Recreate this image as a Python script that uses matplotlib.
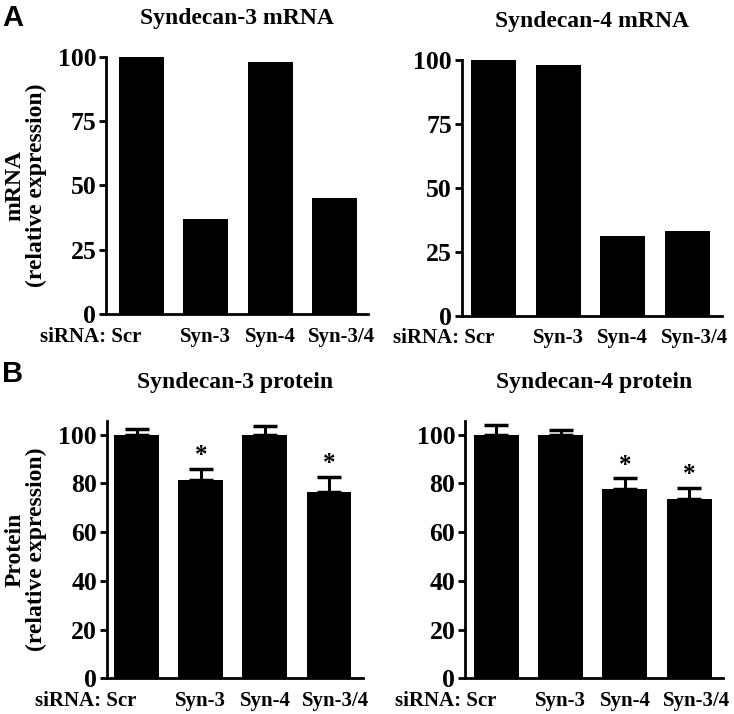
import matplotlib.pyplot as plt
import matplotlib.transforms as mtransforms

plt.rcParams['font.family'] = ['Liberation Serif', 'DejaVu Serif']
plt.rcParams['font.weight'] = 'bold'

# Data
groups = ["Scr", "Syn-3", "Syn-4", "Syn-3/4"]
syn3_mrna = [100, 37, 98, 45]
syn4_mrna = [100, 98, 31, 33]
syn3_prot = [100, 81.5, 99.7, 76.5]
syn3_prot_err = [2.2, 4.3, 4.0, 6.0]
syn3_prot_sig = [False, True, False, True]
syn4_prot = [100, 99.7, 77.5, 73.5]
syn4_prot_err = [4.0, 2.0, 4.5, 4.5]
syn4_prot_sig = [False, False, True, True]

fig = plt.figure(figsize=(7.34, 7.14), dpi=100)

# axes rectangles in figure fractions
ax_a1 = fig.add_axes([0.1444, 0.5602, 0.357, 0.360])
ax_a2 = fig.add_axes([0.629, 0.5578, 0.354, 0.358])
ax_b1 = fig.add_axes([0.1454, 0.050, 0.349, 0.3604])
ax_b2 = fig.add_axes([0.6335, 0.050, 0.351, 0.3604])

x = list(range(len(groups)))


def style_axis(ax, title, ylim, yticks, xlim):
    ax.set_xlim(*xlim)
    ax.set_ylim(*ylim)
    ax.set_yticks(yticks)
    ax.tick_params(axis='y', labelsize=18.5, width=2, length=5, pad=2)
    ax.tick_params(axis='x', length=0, labelsize=15, pad=9)
    for side in ['top', 'right']:
        ax.spines[side].set_visible(False)
    for side in ['left', 'bottom']:
        ax.spines[side].set_linewidth(2)
    ax.set_xticks(x)
    ax.set_xticklabels(["siRNA: " + groups[0]] + groups[1:])
    labels = ax.get_xticklabels()
    labels[0].set_horizontalalignment('right')
    # last label sits a little to the right of its bar in the original
    shift = mtransforms.ScaledTranslation(5 / 72, 0, fig.dpi_scale_trans)
    labels[-1].set_transform(labels[-1].get_transform() + shift)
    ax.set_title(title, fontsize=17, fontweight='bold', pad=24)


def draw_bars(ax, vals, err=None, sig=None):
    ax.bar(x, vals, width=0.70, color='black', clip_on=False, zorder=2)
    if err is not None:
        ax.errorbar(x, vals, yerr=[[0] * len(err), err], fmt='none',
                    ecolor='black', elinewidth=2.2, capsize=8.4, capthick=2.5,
                    clip_on=False, zorder=1)
        for xi, v, e, s in zip(x, vals, err, sig):
            if s:
                ax.text(xi, v + e + 0.8, "*", ha='center', va='bottom',
                        fontsize=18, fontweight='bold')


draw_bars(ax_a1, syn3_mrna)
style_axis(ax_a1, "Syndecan-3 mRNA", (0, 100), [0, 25, 50, 75, 100], (-0.55, 3.52))
draw_bars(ax_a2, syn4_mrna)
style_axis(ax_a2, "Syndecan-4 mRNA", (0, 100), [0, 25, 50, 75, 100], (-0.5, 3.53))
draw_bars(ax_b1, syn3_prot, syn3_prot_err, syn3_prot_sig)
style_axis(ax_b1, "Syndecan-3 protein", (0, 105.6), [0, 20, 40, 60, 80, 100], (-0.47, 3.53))
draw_bars(ax_b2, syn4_prot, syn4_prot_err, syn4_prot_sig)
style_axis(ax_b2, "Syndecan-4 protein", (0, 105.6), [0, 20, 40, 60, 80, 100], (-0.49, 3.52))

ax_a1.set_ylabel("mRNA\n(relative expression)", fontsize=17, fontweight='bold',
                 labelpad=8, linespacing=1.0)
ax_b1.set_ylabel("Protein\n(relative expression)", fontsize=17, fontweight='bold',
                 labelpad=8, linespacing=1.0)

fig.text(0.003, 0.975, "A", fontsize=21, fontweight='bold', family='Liberation Sans', va='center')
fig.text(0.003, 0.476, "B", fontsize=21, fontweight='bold', family='Liberation Sans', va='center')

fig.savefig("out.png", dpi=100)
